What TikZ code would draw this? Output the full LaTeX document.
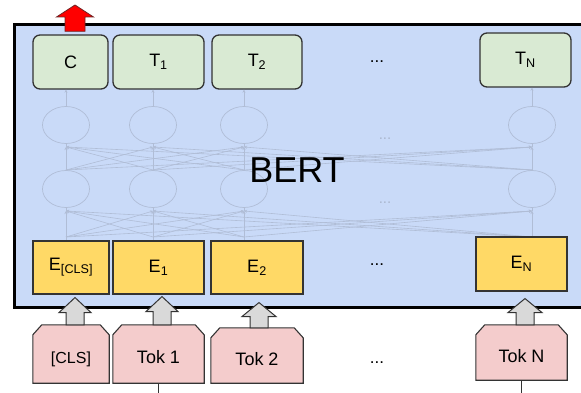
\documentclass[tikz,border=0pt]{standalone}
\usepackage{fontspec}
\setmainfont{Liberation Sans}
\usetikzlibrary{calc,shapes.geometric,arrows.meta}
\definecolor{bertbg}{HTML}{C9DAF8}
\definecolor{outfill}{HTML}{D9EAD3}
\definecolor{embfill}{HTML}{FFD966}
\definecolor{tokfill}{HTML}{F4CCCC}
\definecolor{arrfill}{HTML}{D9D9D9}
\definecolor{edge}{HTML}{333333}
\definecolor{netcol}{RGB}{176,189,214}
\definecolor{faintdot}{RGB}{170,182,205}
\newcommand\blockarrow[6]{%
  \draw[#1] let \p1=#2, \p2=#3 in
    (\x1-#4,\y1) -- (\x1-#4,\y2-#6) -- (\x1-#5,\y2-#6) -- (\x1,\y2)
    -- (\x1+#5,\y2-#6) -- (\x1+#4,\y2-#6) -- (\x1+#4,\y1) -- cycle;}
\newcommand\tokoutline[1]{%
  \draw[tokline] (#1.south west) -- ($(#1.north west)+(0,10)$) -- ($(#1.north west)+(9,0)$)
    -- ($(#1.north east)+(-9,0)$) -- ($(#1.north east)+(0,10)$) -- (#1.south east) -- cycle;}
\begin{document}
\begin{tikzpicture}[x=1pt,y=-1pt,
  outbox/.style={draw=edge, fill=outfill, rounded corners=7pt, line width=1.3pt, inner sep=0pt,
    font=\fontsize{18}{18}\selectfont},
  embbox/.style={draw=edge, fill=embfill, line width=1.1pt, inner sep=0pt,
    font=\fontsize{18}{18}\selectfont},
  tokbox/.style={inner sep=0pt, text height=19pt, text depth=0pt, font=\fontsize{18}{18}\selectfont},
  tokline/.style={draw=edge, fill=tokfill, line width=1.1pt},
  neuron/.style={ellipse, draw=netcol, line width=0.7pt, minimum width=47pt, minimum height=37pt, inner sep=0pt},
  netline/.style={draw=netcol, line width=0.6pt},
  netarr/.style={netline, -{Stealth[length=3pt,width=3pt]}},
  grayarr/.style={draw=edge, fill=arrfill, line width=1pt, line join=miter},
  redarr/.style={draw=edge!70!red, fill=red, line width=0.8pt},
  dotstyle/.style={font=\fontsize{17}{17}\selectfont},
  faintdots/.style={font=\fontsize{15}{15}\selectfont, text=faintdot},
  bertline/.style={draw=black, line width=3pt, line cap=rect}
]
\useasboundingbox (0,0) rectangle (581,393);

% BERT box (right side runs past the picture edge)
\node[fill=bertbg, anchor=north west, inner sep=0pt,
  minimum width=600pt, minimum height=282pt] (bert) at (14,25) {};
\draw[bertline] (bert.north east) -- (bert.north west) -- (bert.south west) -- (bert.south east);

% faded network
\foreach \i/\x in {1/66,2/153,3/244,4/532} {
  \node[neuron] (h\i) at (\x,125) {};
  \node[neuron] (g\i) at (\x,189) {};
  \coordinate (hu\i) at (\x,147);
  \coordinate (gd\i) at (\x,170);
  \coordinate (gu\i) at (\x,211);
  \coordinate (ed\i) at (\x,237);
}
\foreach \i in {1,...,4} {
  \foreach \j in {1,...,4} {
    \draw[netarr] (gd\j) -- (hu\i);
    \draw[netarr] (ed\j) -- (gu\i);
  }
  \draw[netline] (hu\i) -- (h\i.south);
  \draw[netline] (gd\i) -- (g\i.north);
  \draw[netline] (gu\i) -- (g\i.south);
}
\node[faintdots] (fd1) at (385,139) {...};
\node[faintdots] (fd2) at (385,203) {...};

\node[font=\fontsize{36}{36}\selectfont] (bertlabel) at (297,170) {BERT};

% output boxes
\node[outbox, minimum width=75pt, minimum height=54pt] (C) at (70.5,62) {C};
\node[outbox, minimum width=91pt, minimum height=54pt] (T1) at (158.5,62) {T\textsubscript{1}};
\node[outbox, minimum width=90pt, minimum height=54pt] (T2) at (257,62) {T\textsubscript{2}};
\node[outbox, minimum width=91pt, minimum height=54pt] (TN) at (525.5,60) {T\textsubscript{N}};
\node[dotstyle] (dots1) at (377,62) {...};

\draw[netarr] (h1.north) -- (h1.north |- C.south);
\draw[netarr] (h2.north) -- (h2.north |- T1.south);
\draw[netarr] (h3.north) -- (h3.north |- T2.south);
\draw[netarr] (h4.north) -- (h4.north |- TN.south);

% embedding boxes
\node[embbox, minimum width=76pt, minimum height=53pt] (E0) at (71,267.5) {E\textsubscript{[CLS]}};
\node[embbox, minimum width=91pt, minimum height=53pt] (E1) at (158.5,267.5) {E\textsubscript{1}};
\node[embbox, minimum width=92pt, minimum height=53pt] (E2) at (257,267.5) {E\textsubscript{2}};
\node[embbox, minimum width=91pt, minimum height=54pt] (EN) at (521.5,264) {E\textsubscript{N}};
\node[dotstyle] (dots2) at (377,265) {...};

\draw[netline] (ed1) -- (ed1 |- E0.north);
\draw[netline] (ed2) -- (ed2 |- E1.north);
\draw[netline] (ed3) -- (ed3 |- E2.north);

% token boxes
\node[tokbox, minimum width=76pt, minimum height=58pt] (tok0) at (71,354) {};
\node[tokbox, minimum width=91pt, minimum height=58pt] (tok1) at (158.5,354) {};
\node[tokbox, minimum width=92pt, minimum height=55pt] (tok2) at (257,355.5) {};
\node[tokbox, minimum width=91pt, minimum height=55pt] (tokN) at (521.5,352.5) {};
\tokoutline{tok0}
\tokoutline{tok1}
\tokoutline{tok2}
\tokoutline{tokN}
\node[tokbox, font=\fontsize{16}{16}\selectfont] (tx0) at (tok0) {[CLS]};
\node[tokbox] (tx1) at (tok1) {Tok 1};
\node[tokbox] (tx2) at (tok2) {Tok 2};
\node[tokbox] (txN) at (tokN) {Tok N};
\node[dotstyle] (dots3) at (377,363) {...};

% stubs below tokens
\coordinate (stub1) at (158,396);
\coordinate (stubN) at (521,396);
\draw[edge, line width=1pt] (tok1.south -| stub1) -- (stub1);
\draw[edge, line width=1pt] (tokN.south -| stubN) -- (stubN);

% gray block arrows
\blockarrow{grayarr}{($(tok0.north)+(4,0)$)}{($(E0.south)+(4,3)$)}{9pt}{16pt}{15pt}
\blockarrow{grayarr}{($(tok1.north)+(3.5,0)$)}{($(E1.south)+(3.5,2)$)}{9pt}{16pt}{15pt}
\blockarrow{grayarr}{($(tok2.north)+(2,0)$)}{($(E2.south)+(2,8)$)}{9pt}{17pt}{14pt}
\blockarrow{grayarr}{($(tokN.north)+(3.5,0)$)}{($(EN.south)+(3.5,7)$)}{9pt}{17pt}{14pt}

% red output arrow
\coordinate (out) at (75,5);
\blockarrow{redarr}{($(C.north)+(4.5,-3)$)}{(out)}{10pt}{18.5pt}{12pt}
\end{tikzpicture}
\end{document}
